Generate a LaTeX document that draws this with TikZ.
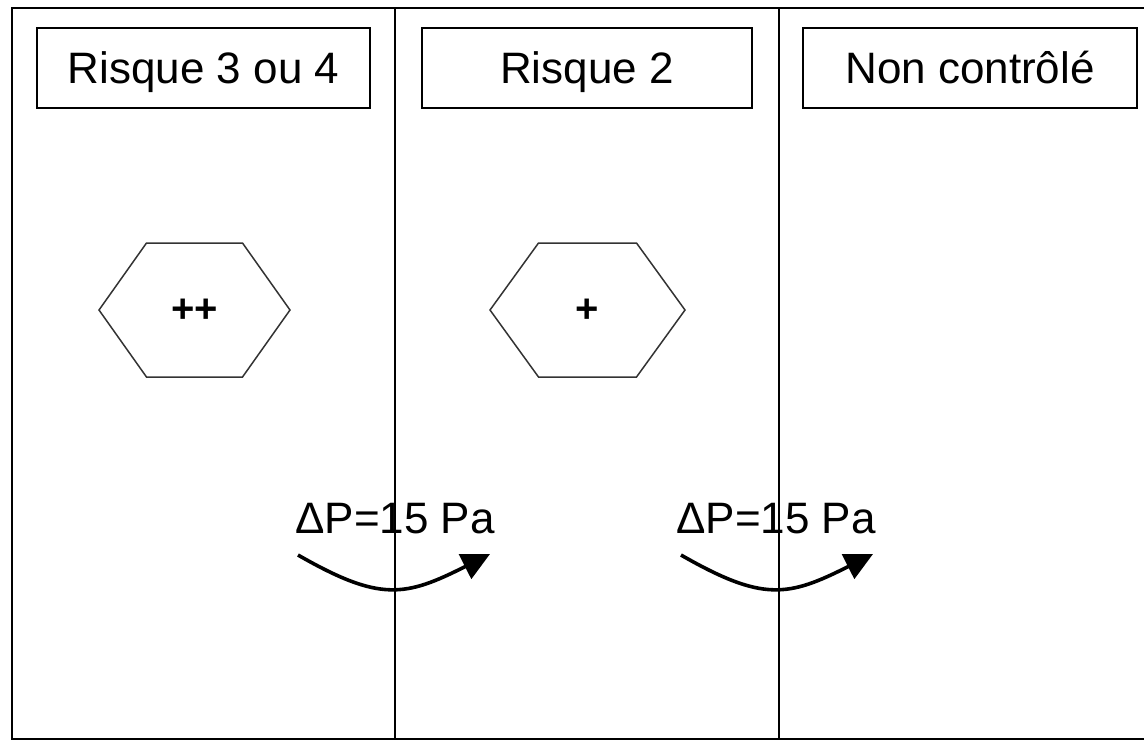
\documentclass[tikz,border=0pt]{standalone}
\usepackage{fontspec}
\setmainfont{Liberation Sans}
\usetikzlibrary{arrows.meta}
\begin{document}
\begin{tikzpicture}[x=0.5pt,y=-0.5pt,
  frame/.style={line width=1.4pt, black},
  zonebox/.style={draw, line width=1.4pt, minimum height=40pt, inner sep=0pt,
    text height=20pt, text depth=5pt, font=\fontsize{22}{26}\selectfont},
  hexline/.style={line width=0.75pt, black!80},
  sign/.style={font=\fontsize{20}{24}\selectfont\bfseries, inner sep=0pt},
  dp/.style={font=\fontsize{22}{26}\selectfont, anchor=base, inner sep=0pt},
  flow/.style={line width=1.8pt, -{Triangle[length=14pt,width=13.5pt]}}]
\useasboundingbox (0,0) rectangle (1144,741);
% frame
\coordinate (tl) at (12,8);
\coordinate (tr) at (1144,8);
\coordinate (bl) at (12,739);
\coordinate (br) at (1144,739);
\draw[frame] (tr) -- (tl) -- (bl) -- (br);
% dividers
\coordinate (d1t) at (395,8);
\coordinate (d1b) at (395,739);
\coordinate (d2t) at (779,8);
\coordinate (d2b) at (779,739);
\draw[frame, line width=1.2pt] (d1t) -- (d1b);
\draw[frame, line width=1.2pt] (d2t) -- (d2b);
% header boxes
\node[zonebox, minimum width=166.5pt] (b1) at (203.5,68) {Risque 3 ou 4};
\node[zonebox, minimum width=165pt] (b2) at (587,68) {Risque 2};
\node[zonebox, minimum width=167pt] (b3) at (970,68) {Non contrôlé};
% hexagons
\node[sign] (h1) at (194.5,311) {++};
\draw[hexline] (194.5,310) ++(-95.5,0) -- ++(47.5,-67) -- ++(96,0) -- ++(47.5,67)
  -- ++(-47.5,67) -- ++(-96,0) -- cycle;
\node[sign] (h2) at (587.5,311) {+};
\draw[hexline] (587.5,310) ++(-97.5,0) -- ++(48.5,-67) -- ++(98,0) -- ++(48.5,67)
  -- ++(-48.5,67) -- ++(-98,0) -- cycle;
% pressure labels
\node[dp] (p1) at (395,533) {ΔP=15 Pa};
\node[dp] (p2) at (776,533) {ΔP=15 Pa};
% flow arrows
\coordinate (a1s) at (298,555);
\coordinate (a1e) at (490,554);
\coordinate (a2s) at (681,555);
\coordinate (a2e) at (873,554);
\draw[flow] (a1s) .. controls (380,602) and (405,597) .. (a1e);
\draw[flow] (a2s) .. controls (763,602) and (788,597) .. (a2e);
\end{tikzpicture}
\end{document}
